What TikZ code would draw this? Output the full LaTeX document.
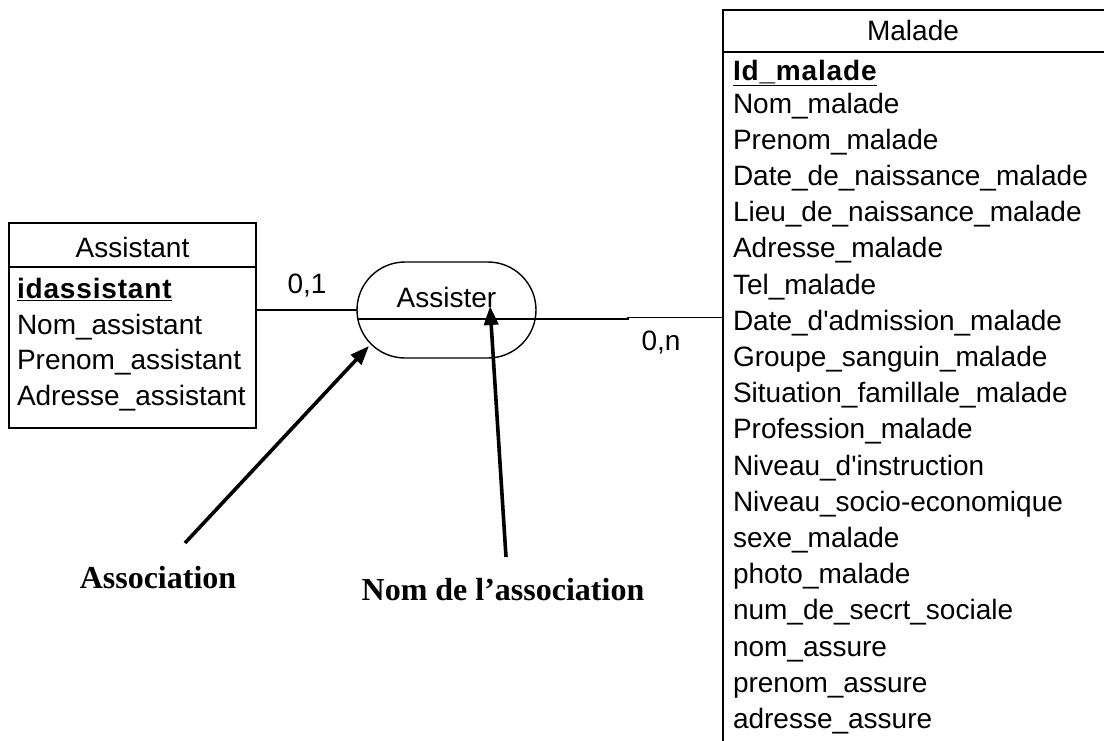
\documentclass[tikz,border=0pt]{standalone}
\usepackage{fontspec}
\setmainfont{Liberation Sans}
\newfontfamily\timesfont{Liberation Serif}
\newfontfamily\keyfont[LetterSpace=3.0]{Liberation Sans Bold}
\usetikzlibrary{arrows.meta,calc}
\begin{document}
\begin{tikzpicture}[x=1pt,y=-1pt,
  every node/.style={inner sep=0pt,outer sep=0pt},
  txt/.style={font=\fontsize{28}{34}\selectfont},
  attr/.style={txt,anchor=base west},
  keyattr/.style={anchor=base west,font=\keyfont\fontsize{28}{34}\selectfont},
  entbox/.style={draw,line width=1.4pt,anchor=north west},
  link/.style={draw,line width=1.3pt},
  pointer/.style={draw,line width=3.6pt,-{Triangle[length=19pt,width=14pt]}},
  callout/.style={font=\timesfont\bfseries\fontsize{32}{38}\selectfont,anchor=center}]
\useasboundingbox (0,0) rectangle (1104,740);
\clip (0,0) rectangle (1104,740);
\fill[white] (0,0) rectangle (1104,740);

% ---------- Assistant entity ----------
\node[entbox,minimum width=247pt,minimum height=205pt] (asst) at (9,223) {};
\coordinate (asepy) at (0,267);
\draw[line width=1.4pt] (asst.west |- asepy) -- (asst.east |- asepy);
\node[txt,anchor=base] (asttitle) at (132.5,257) {Assistant};
\node[keyattr] (a1) at (17,298.5) {\underline{idassistant}};
\node[attr] (a2) at (17,334) {Nom\_assistant};
\node[attr] (a3) at (17,369.5) {Prenom\_assistant};
\node[attr] (a4) at (17,405) {Adresse\_assistant};

% ---------- Malade entity ----------
\node[entbox,minimum width=420pt,minimum height=780pt] (mal) at (723,10) {};
\coordinate (msepy) at (0,52);
\draw[line width=1.4pt] (mal.west |- msepy) -- (mal.east |- msepy);
\node[txt,anchor=base] (maltitle) at (913,40) {Malade};
\node[keyattr] (m0) at (733,80) {\underline{Id\_malade}};
\foreach \t [count=\i from 0] in {Nom\_malade,Prenom\_malade,Date\_de\_naissance\_malade,Lieu\_de\_naissance\_malade,Adresse\_malade,Tel\_malade,Date\_d\textquotesingle admission\_malade,Groupe\_sanguin\_malade,Situation\_famillale\_malade,Profession\_malade,Niveau\_d\textquotesingle instruction,Niveau\_socio-economique,sexe\_malade,photo\_malade,num\_de\_secrt\_sociale,nom\_assure,prenom\_assure,adresse\_assure}
  \node[attr] (m\i) at (733,{113+36.2*\i}) {\t};

% ---------- Association ----------
\node[draw,line width=1.4pt,rounded corners=48pt,minimum width=179pt,minimum height=96pt] (assoc) at (446.5,310) {};
\node[txt,anchor=base] (assocname) at (446.5,307) {Assister};

% ---------- connectors ----------
\coordinate (ly) at (0,310);
\coordinate (ry) at (0,319);
\coordinate (ry2) at (0,317.5);
\coordinate (jog) at (628,0);
\draw[link] (asst.east |- ly) -- (assoc.west);
\draw[link] (assoc.west |- ry) -- (jog |- ry) -- (jog |- ry2) -- (mal.west |- ry2);
\node[txt,anchor=base] (card1) at (307,293) {0,1};
\node[txt,anchor=base] (card2) at (661,350) {0,n};

% ---------- callouts ----------
\node[callout] (lab1) at (158,578) {Association};
\node[callout] (lab2) at (503,590) {Nom de l’association};
\coordinate (t1) at (185,543);
\coordinate (h1) at (369,346);
\coordinate (t2) at (506,557);
\coordinate (h2) at (490,306);
\draw[pointer] (t1) -- (h1);
\draw[pointer] (t2) -- (h2);
\end{tikzpicture}
\end{document}
